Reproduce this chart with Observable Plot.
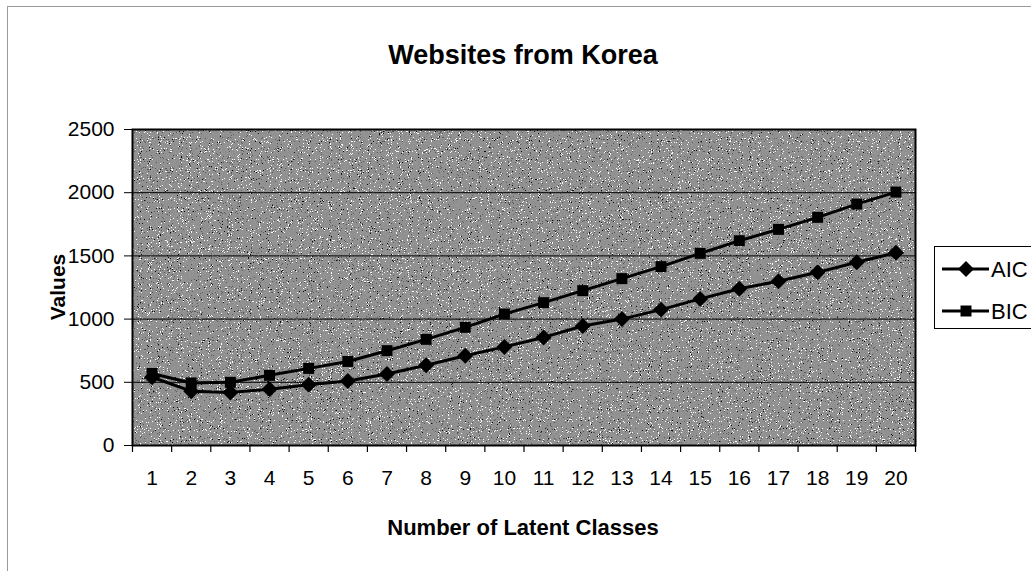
<!DOCTYPE html>
<html>
<head>
<meta charset="utf-8">
<script src="https://cdn.jsdelivr.net/npm/d3@7"></script>
<script src="https://cdn.jsdelivr.net/npm/@observablehq/plot@0.6"></script>
<style>
  html, body { margin: 0; padding: 0; background: #fff; }
  #chart {
    position: relative; width: 1031px; height: 571px; overflow: hidden;
    font-family: "Liberation Sans", Arial, sans-serif; color: #000;
  }
  #chart .border { position: absolute; left: 7px; top: 6px; right: -2px; bottom: -2px;
    border-left: 1px solid #9a9a9a; border-top: 1px solid #9a9a9a; }
  #chart .title { position: absolute; left: 0; width: 1046px; top: 40px; text-align: center;
    font-weight: bold; font-size: 27px; }
  #chart .xtitle { position: absolute; left: 0; width: 1046px; top: 515px; text-align: center;
    font-weight: bold; font-size: 22px; }
  #chart .ytitle { position: absolute; left: 58px; top: 287px; font-weight: bold; font-size: 21px;
    transform: translate(-50%, -50%) rotate(-90deg); white-space: nowrap; }
  #chart svg.plot { position: absolute; left: 0; top: 0; }
  #chart svg.legend { position: absolute; left: 0; top: 0; }
</style>
</head>
<body>
<div id="chart">
  <div class="border"></div>
</div>
<script>
// Number of latent classes fitted
const classes = [1, 2, 3, 4, 5, 6, 7, 8, 9, 10, 11, 12, 13, 14, 15, 16, 17, 18, 19, 20];
// Information criteria per model
const aic = [540, 430, 420, 445, 480, 510, 565, 635, 710, 780, 855, 945, 1000, 1075, 1160, 1240, 1300, 1370, 1450, 1525];
const bic = [570, 495, 500, 555, 610, 665, 750, 840, 935, 1040, 1130, 1225, 1320, 1415, 1520, 1620, 1710, 1805, 1910, 2005];
const yTicks = [0, 500, 1000, 1500, 2000, 2500];
const seriesNames = ["AIC", "BIC"];

const titleText = "Websites from Korea";
const xTitle = "Number of Latent Classes";
const yTitle = "Values";

// marker shapes and sizes per series
const markers = {
  AIC: {symbol: d3.symbolDiamond2, plotSymbol: "diamond2", r: 7.2},
  BIC: {symbol: d3.symbolSquare, plotSymbol: "square", r: 6.2}
};

const rows = classes.flatMap((c, i) => [
  {cls: c, value: aic[i], series: "AIC"},
  {cls: c, value: bic[i], series: "BIC"}
]);
// category boundaries for the tick marks between classes
const bounds = [classes[0] - 0.5, ...classes.map(c => c + 0.5)];

const chart = document.getElementById("chart");

const plot = Plot.plot({
  width: 1031,
  height: 571,
  marginLeft: 132,
  marginRight: 116,
  marginTop: 129,
  marginBottom: 126,
  style: {fontFamily: "'Liberation Sans', Arial, sans-serif", fontSize: "21px", color: "#000", background: "transparent"},
  x: {type: "linear", domain: [bounds[0], bounds[bounds.length - 1]]},
  y: {domain: [yTicks[0], yTicks[yTicks.length - 1]]},
  marks: [
    Plot.frame({fill: "#8c8c8c"}),
    Plot.ruleY(yTicks.slice(1, -1), {stroke: "#000", strokeWidth: 1}),
    Plot.frame({stroke: "#000", strokeWidth: 2}),
    Plot.axisX(bounds, {tickSize: 7, tickFormat: () => "", stroke: "#000", strokeWidth: 1.2, label: null}),
    Plot.axisX(classes, {tickSize: 0, tickPadding: 25, fontSize: 21, fill: "#000", tickFormat: d => String(d), label: null}),
    Plot.axisY(yTicks, {tickSize: 8, tickPadding: 10, fontSize: 21, fill: "#000", stroke: "#000",
      tickFormat: d => String(d), label: null}),
    Plot.line(rows, {x: "cls", y: "value", z: "series", stroke: "#000", strokeWidth: 3}),
    ...seriesNames.map(name => Plot.dot(rows.filter(d => d.series === name), {
      x: "cls", y: "value", symbol: markers[name].plotSymbol, r: markers[name].r, fill: "#000", stroke: "none"
    }))
  ]
});
plot.classList.add("plot");
chart.appendChild(plot);

// grainy speckled fill for the plot area
const svg = d3.select(plot);
const defs = svg.insert("defs", ":first-child");
const f = defs.append("filter").attr("id", "grain").attr("x", 0).attr("y", 0).attr("width", 1).attr("height", 1)
  .attr("color-interpolation-filters", "sRGB");
f.append("feTurbulence").attr("type", "fractalNoise").attr("baseFrequency", 0.9).attr("numOctaves", 2)
  .attr("seed", 7).attr("result", "noise");
f.append("feColorMatrix").attr("in", "noise").attr("type", "matrix")
  .attr("values", "0.33 0.33 0.33 0 0  0.33 0.33 0.33 0 0  0.33 0.33 0.33 0 0  0 0 0 0 1").attr("result", "gray");
const ct = f.append("feComponentTransfer").attr("in", "gray").attr("result", "dots");
const levels = "0.05 0.05 0.05 0.05 0.05 0.05 0.05 0.35 0.55 0.57 0.57 0.6 1 1 1 1 1 1 1 1";
["feFuncR", "feFuncG", "feFuncB"].forEach(fn =>
  ct.append(fn).attr("type", "discrete").attr("tableValues", levels));
f.append("feComposite").attr("in", "dots").attr("in2", "SourceGraphic").attr("operator", "in");
const frameNode = plot.querySelector("[aria-label=frame]");
if (frameNode) {
  const target = frameNode.tagName.toLowerCase() === "rect" ? frameNode : frameNode.querySelector("rect");
  if (target) target.setAttribute("filter", "url(#grain)");
}

// titles
const t = document.createElement("div"); t.className = "title"; t.textContent = titleText; chart.appendChild(t);
const xt = document.createElement("div"); xt.className = "xtitle"; xt.textContent = xTitle; chart.appendChild(xt);
const yt = document.createElement("div"); yt.className = "ytitle"; yt.textContent = yTitle; chart.appendChild(yt);

// legend
const lg = d3.select(chart).append("svg").attr("class", "legend").attr("width", 1031).attr("height", 571);
lg.append("rect").attr("x", 934.5).attr("y", 246.5).attr("width", 110).attr("height", 82)
  .attr("fill", "#fff").attr("stroke", "#000").attr("stroke-width", 1);
seriesNames.forEach((name, i) => {
  const y = 269 + i * 42;
  lg.append("line").attr("x1", 942).attr("x2", 989).attr("y1", y).attr("y2", y)
    .attr("stroke", "#000").attr("stroke-width", 3);
  const m = markers[name];
  lg.append("path").attr("d", d3.symbol(m.symbol, Math.PI * m.r * m.r)()).attr("transform", `translate(966,${y})`)
    .attr("fill", "#000");
  lg.append("text").attr("x", 991).attr("y", y).attr("dy", "0.36em").attr("font-size", 22)
    .attr("font-family", "'Liberation Sans', Arial, sans-serif").text(name);
});
</script>
</body>
</html>
